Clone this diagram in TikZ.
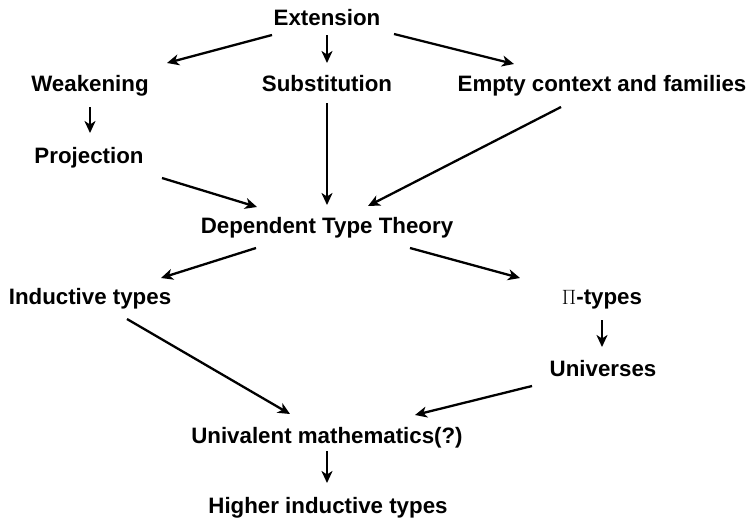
\documentclass[tikz,border=0pt]{standalone}
\usepackage{fontspec}
\setmainfont{Liberation Sans}
\usetikzlibrary{arrows.meta}
\tikzset{
  lbl/.style={anchor=base, inner sep=0pt, font=\fontsize{22.3}{26}\selectfont\bfseries},
  arr/.style={line width=2.3pt, -{Stealth[length=12pt,width=11pt,inset=3.5pt]}},
}
\begin{document}
\begin{tikzpicture}[x=1pt,y=-1pt]
\useasboundingbox (0,0) rectangle (751,517);
\node[lbl] (ext) at (327,25) {Extension};
\node[lbl] (weak) at (90,91) {Weakening};
\node[lbl] (sub) at (327,91) {Substitution};
\node[lbl] (empty) at (602,91) {Empty context and families};
\node[lbl] (proj) at (89,163) {Projection};
\node[lbl] (dtt) at (327,233) {Dependent Type Theory};
\node[lbl] (ind) at (90,304) {Inductive types};
\node[lbl] (pi) at (602,304) {$\Pi$-types};
\node[lbl] (univ) at (603,376) {Universes};
\node[lbl] (uni) at (327,443) {Univalent mathematics(?)};
\node[lbl] (hit) at (328,513) {Higher inductive types};

\draw[arr] ([shift={(-55,10)}]ext.base) -- ([shift={(77,-28)}]weak.base);
\draw[arr] ([shift={(0,10)}]ext.base) -- ([shift={(0,-28)}]sub.base);
\draw[arr] ([shift={(67,9)}]ext.base) -- ([shift={(-88,-27)}]empty.base);
\draw[arr] ([shift={(0,16)}]weak.base) -- ([shift={(1,-30)}]proj.base);
\draw[arr] ([shift={(0,12)}]sub.base) -- ([shift={(0,-28)}]dtt.base);
\draw[arr] ([shift={(73,15)}]proj.base) -- ([shift={(-70,-26)}]dtt.base);
\draw[arr] ([shift={(-41,16)}]empty.base) -- ([shift={(41,-27)}]dtt.base);
\draw[arr] ([shift={(-71,15)}]dtt.base) -- ([shift={(71,-26)}]ind.base);
\draw[arr] ([shift={(83,15)}]dtt.base) -- ([shift={(-82,-26)}]pi.base);
\draw[arr] ([shift={(0,16)}]pi.base) -- ([shift={(-1,-29)}]univ.base);
\draw[arr] ([shift={(37,15)}]ind.base) -- ([shift={(-37,-29)}]uni.base);
\draw[arr] ([shift={(-71,10)}]univ.base) -- ([shift={(88,-28)}]uni.base);
\draw[arr] ([shift={(0,8)}]uni.base) -- ([shift={(-1,-30)}]hit.base);
\end{tikzpicture}
\end{document}
